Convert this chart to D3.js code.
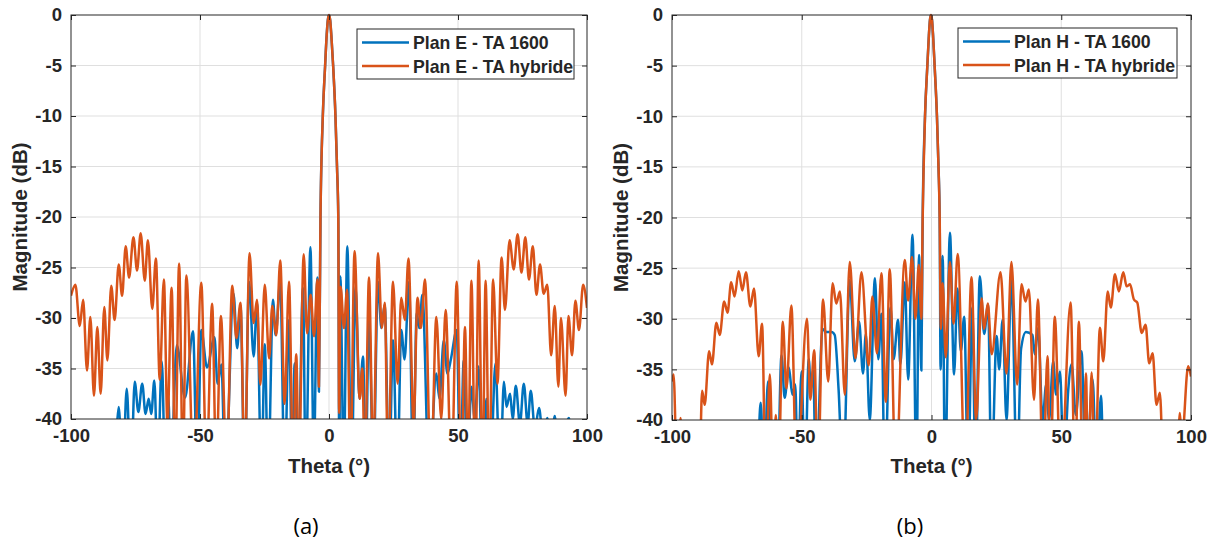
<!DOCTYPE html>
<html>
<head>
<meta charset="utf-8">
<script src="https://cdn.jsdelivr.net/npm/d3@7"></script>
<style>
  body { margin: 0; background: #fff; }
  svg { display: block; }
  text { font-family: "Liberation Sans", Arial, sans-serif; fill: #262626; }
</style>
</head>
<body>
<svg id="chart" width="1214" height="541"></svg>
<script>
// Axis settings
var xTicks = [-100, -50, 0, 50, 100];
var yTicks = [0, -5, -10, -15, -20, -25, -30, -35, -40];

// Main lobes shared by both curves of each plane
var mainLobeE = [[-3.3,-20],[-2.4,-10],[-1.5,-5],[-0.9,-2],[-0.45,-0.5],[0,0],[0.45,-0.5],[0.9,-2],[1.6,-5],[2.5,-10],[3.1,-15],[3.6,-20]];
var mainLobeH = [[-3.4,-20],[-2.5,-10],[-1.6,-5],[-1.0,-2],[-0.6,-0.5],[-0.2,0],[0.2,-0.5],[0.6,-2],[1.2,-5],[2.1,-10],[2.7,-15],[3.15,-20]];

// Plan E - TA 1600 (blue)
var planE_1600_left = [[-83,-46],[-81.5,-38.8],[-80,-46],[-78.4,-37.0],[-76.8,-46],[-75.3,-36.3],[-73.9,-39.3],[-72.4,-36.5],
  [-71.1,-39.5],[-69.9,-38.0],[-68.9,-39.5],[-67.7,-36.2],[-66.4,-45],[-64.8,-34.3],[-63.5,-45],[-62.3,-37.8],[-61.3,-45],
  [-59.0,-32.7],[-55.8,-37.9],[-52.7,-31.3],[-51.1,-46],[-49.5,-31.2],[-47.3,-34.9],[-44.4,-31.9],[-43.2,-36.5],[-41.7,-34.6],
  [-40.2,-46],[-37.0,-27.6],[-35.6,-33],[-34.3,-28.8],[-32.7,-46],[-31.0,-26.4],[-29.2,-33.8],[-27.9,-28.5],[-26.2,-46],
  [-24.9,-32.6],[-23.6,-46],[-21.7,-28.2],[-20.7,-31.7],[-18.9,-26.5],[-17.2,-46],[-15.5,-30.2],[-14.3,-45],[-13.3,-34.5],
  [-11.9,-45],[-10.1,-27.0],[-9.0,-46],[-7.2,-23.0],[-5.9,-44],[-4.5,-26.0],[-3.9,-37.3]];
var planE_1600_right = [[4.0,-46],[4.4,-25.9],[5.7,-45],[7.1,-22.9],[8.7,-46],[10.3,-26.9],[11.8,-38],[13.2,-33.8],[14.2,-45],
  [15.5,-30.0],[17.2,-45],[19.0,-26.4],[20.3,-31],[21.6,-28.7],[23.3,-46],[24.8,-32.2],[26.5,-46],[28.0,-31.2],[29.3,-34.1],
  [31.0,-26.4],[32.6,-45],[34.0,-29.5],[35.0,-31],[36.2,-27.7],[38.8,-46],[41.6,-35.5],[42.8,-38],[44.5,-32.2],[45.9,-35.5],
  [47.3,-34],[49.5,-31.2],[50.9,-46],[52.2,-34.2],[53.6,-45],[55.2,-36.8],[56.5,-40],[58.0,-34.8],[59.5,-46],[61.0,-38],
  [62.5,-46],[64.5,-34.5],[66.3,-46],[67.8,-36.3],[68.8,-38.8],[70.2,-37.5],[71.2,-40],[72.4,-36.7],[74,-40.5],[75.5,-36.5],
  [77,-40.5],[78.2,-37.2],[79.8,-41],[81.4,-38.9],[83,-42],[84.6,-39.9],[86,-43],[87.5,-39.7],[89,-44],[93,-39.9],[95,-45],[100,-46]];

// Plan E - TA hybride (orange)
var planE_hyb_left = [[-100,-27.8],[-98.3,-26.7],[-96.6,-30.8],[-95.3,-28.2],[-93.8,-35.2],[-92.5,-29.9],[-91.1,-37.7],
  [-89.8,-30.9],[-88.5,-37.5],[-87.1,-28.9],[-85.9,-34.2],[-84.4,-26.8],[-83.1,-30.2],[-81.5,-24.7],[-80.2,-27.8],[-78.8,-22.9],
  [-77.5,-26.0],[-75.8,-22.0],[-74.4,-25.3],[-73.0,-21.6],[-71.4,-26.3],[-70.2,-22.3],[-68.5,-29.1],[-67.1,-24.1],[-65.6,-36.1],
  [-64.0,-26.2],[-62.6,-40.5],[-61.0,-27.0],[-59.6,-45],[-58.1,-24.6],[-56.6,-45],[-55.3,-25.8],[-52.4,-46],[-49.5,-26.5],
  [-47.5,-45],[-45.3,-28.6],[-43.7,-45],[-41.9,-29.8],[-39.7,-45],[-37.5,-26.8],[-35.9,-32],[-34.3,-28.5],[-32.7,-45],
  [-30.8,-23.6],[-29.2,-30.5],[-27.9,-28.2],[-26.6,-36.6],[-24.9,-26.7],[-23.2,-34.0],[-22.0,-28.8],[-20.4,-31.7],[-18.9,-24.3],
  [-17.2,-38.5],[-15.5,-26.4],[-13.9,-45],[-12.7,-33.6],[-11.7,-45],[-9.8,-23.7],[-8.5,-31.5],[-7.1,-27.7],[-5.8,-31.8],
  [-4.5,-26.2],[-3.9,-36.8]];
var planE_hyb_right = [[3.9,-39.4],[4.5,-26.9],[5.8,-31.0],[7.0,-27.2],[8.3,-45],[9.9,-23.4],[11.9,-38],[12.9,-35],[13.9,-45],
  [15.5,-26.0],[17.1,-44],[19.0,-23.6],[20.5,-31.0],[21.6,-28.5],[22.9,-45],[24.8,-26.4],[26.6,-36.5],[28.0,-28.0],[29.4,-30.2],
  [30.8,-24.1],[32.8,-40.5],[34.3,-28.0],[35.6,-31],[37.2,-26.2],[39.5,-46],[41.6,-29.9],[43.5,-40],[45.2,-29.2],[47.5,-46],
  [49.5,-26.4],[51.3,-46],[52.7,-30.9],[53.9,-45],[55.2,-26.3],[56.7,-46],[58.0,-24.3],[59.5,-46],[60.7,-26.3],[62.1,-46],
  [63.6,-26.2],[65.3,-36.5],[66.9,-24.0],[68.2,-29.2],[70.0,-22.3],[71.6,-25.2],[73.1,-21.7],[74.6,-25.5],[76.1,-22.0],
  [77.5,-26.2],[79.0,-22.9],[80.4,-27.7],[81.8,-24.7],[83.2,-27.6],[84.6,-26.7],[86.1,-33.7],[87.5,-28.8],[88.9,-36.8],
  [89.9,-30.0],[91.7,-37.7],[92.8,-29.8],[94.2,-33.7],[95.5,-28.3],[96.9,-31.2],[98.5,-26.7],[100,-29.0]];

// Plan H - TA 1600 (blue)
var planH_1600_left = [[-67,-46],[-65.8,-38.3],[-64.6,-46],[-63.0,-36.2],[-61.6,-46],[-60.2,-41],[-59.4,-46],[-57.8,-33.6],
  [-56.6,-37.8],[-55.0,-34.8],[-53.6,-37.5],[-52.5,-36.5],[-51.5,-46],[-50.1,-35.2],[-48.8,-46],[-47.3,-34.0],[-46.5,-37],
  [-45.6,-35],[-44.5,-46],[-42.0,-31.0],[-40.5,-31.3],[-38.5,-31.3],[-37.3,-31.6],[-35.8,-37],[-34.1,-46],[-31.5,-26.2],
  [-29.6,-34.2],[-27.9,-30.3],[-26.4,-35.4],[-25.3,-31.5],[-23.8,-40],[-21.8,-26.0],[-20.5,-34],[-19.3,-29.5],[-18.0,-46],
  [-15.8,-28.9],[-14.6,-34],[-12.9,-30.1],[-12.0,-34.5],[-10.3,-26.4],[-9.0,-36],[-7.3,-21.7],[-5.8,-46],[-4.8,-23.7],[-3.9,-35.1]];
var planH_1600_right = [[3.5,-35],[4.3,-23.8],[5.2,-46],[7.1,-21.5],[8.7,-35.5],[10.0,-27.0],[11.3,-33.2],[12.6,-29.8],[14.1,-46],
  [15.7,-28.9],[17.0,-46],[18.6,-25.8],[20.3,-31.5],[21.8,-28.6],[23.1,-46],[25.1,-31.7],[26.1,-35],[27.4,-30.1],[28.9,-40],
  [30.8,-26.2],[33.0,-46],[34.5,-33],[36.4,-31.3],[38.9,-31.6],[39.8,-33.5],[41.1,-30.9],[42.8,-40],[44.2,-36.5],[45.3,-40],
  [46.9,-34.2],[48.0,-37.5],[49.5,-35.2],[51.0,-45],[52.7,-37.0],[54.0,-34.5],[55.6,-39.5],[57.8,-33.2],[59.5,-46],[62.1,-36.0],
  [63.6,-46],[65.3,-37.6],[66.2,-46]];

// Plan H - TA hybride (orange)
var planH_hyb_left = [[-100,-36.2],[-99.4,-35.5],[-98.0,-46],[-96.7,-39.8],[-95.5,-46],[-89.5,-46],[-88.4,-37.1],[-87.4,-38.5],
  [-85.7,-33.2],[-84.6,-34.5],[-82.9,-30.4],[-81.6,-31.6],[-79.9,-28.3],[-78.6,-29.4],[-77.2,-26.4],[-75.9,-27.8],[-74.3,-25.3],
  [-72.9,-27.2],[-71.5,-25.4],[-69.8,-28.8],[-68.4,-27.0],[-66.6,-33.7],[-65.3,-30.5],[-63.9,-46],[-62.3,-35.5],[-61.0,-46],
  [-60.0,-39.5],[-59.0,-46],[-57.3,-30.3],[-55.9,-36.9],[-54.0,-28.7],[-52.0,-46],[-48.0,-30.0],[-46.7,-38],[-45.2,-33.1],
  [-43.8,-46],[-41.8,-28.1],[-39.8,-36.2],[-38.1,-26.5],[-36.7,-28.5],[-35.3,-27.3],[-33.4,-37.5],[-31.5,-24.4],[-29.3,-33.9],
  [-27.0,-25.4],[-24.2,-34.6],[-22.8,-27.8],[-21.0,-33.4],[-19.3,-25.5],[-17.6,-38.2],[-16.1,-25.1],[-13.8,-46],[-10.3,-24.2],
  [-9.0,-28.2],[-7.5,-23.9],[-6.2,-30],[-4.9,-24.7],[-3.9,-30]];
var planH_hyb_right = [[3.6,-31],[4.3,-26.5],[5.5,-33.8],[7.1,-24.4],[8.5,-30.5],[10.1,-23.6],[13.0,-46],[15.4,-25.9],[17.2,-40],
  [19.3,-28],[20.3,-31],[21.7,-28.5],[23.2,-33.5],[26.6,-25.4],[28.9,-35.4],[30.8,-24.4],[33.0,-36.5],[34.7,-26.6],[36.2,-28.3],
  [37.5,-27.1],[39.5,-38],[41.0,-28.1],[43.0,-46],[44.7,-33.7],[45.8,-46],[47.5,-29.8],[49.8,-46],[53.6,-28.4],[55.3,-46],
  [56.8,-30.3],[58.3,-46],[59.5,-35.4],[60.4,-46],[61.7,-35.3],[63.0,-46],[64.9,-30.9],[66.2,-34.2],[67.9,-27.3],[69.1,-28.9],
  [70.7,-25.6],[72.2,-27.3],[73.9,-25.4],[75.2,-26.8],[76.5,-26.6],[78.0,-28.1],[79.3,-28.4],[81.0,-31.4],[82.5,-30.6],
  [83.9,-34.4],[85.2,-33.4],[86.7,-38.5],[88.0,-37.3],[89.5,-46],[94.5,-46],[95.7,-39.3],[96.5,-42],[98.9,-34.7],[100,-35.7]];

var colors = { ta1600: "#0072BD", hybride: "#D95319" };

var panels = [
  { id: "a", left: 71, right: 587, top: 15, bottom: 419, caption: "(a)", captionX: 306,
    series: [
      { name: "Plan E - TA 1600", color: colors.ta1600, data: planE_1600_left.concat(mainLobeE, planE_1600_right) },
      { name: "Plan E - TA hybride", color: colors.hybride, data: planE_hyb_left.concat(mainLobeE, planE_hyb_right) }
    ],
    legend: { x: 357, y: 29, w: 217, h: 50 } },
  { id: "b", left: 672, right: 1191, top: 15, bottom: 420, caption: "(b)", captionX: 910,
    series: [
      { name: "Plan H - TA 1600", color: colors.ta1600, data: planH_1600_left.concat(mainLobeH, planH_1600_right) },
      { name: "Plan H - TA hybride", color: colors.hybride, data: planH_hyb_left.concat(mainLobeH, planH_hyb_right) }
    ],
    legend: { x: 958, y: 28, w: 219, h: 50 } }
];

var svg = d3.select("#chart");
var fmt = function (d) { return String(d); };   // keep the plain hyphen like MATLAB

panels.forEach(function (p) {
  var x = d3.scaleLinear().domain([-100, 100]).range([p.left, p.right]);
  var y = d3.scaleLinear().domain([-40, 0]).range([p.bottom, p.top]);
  var g = svg.append("g");

  // grid
  g.selectAll(".gx").data(xTicks.slice(1, -1)).enter().append("line")
    .attr("x1", function (d) { return x(d); }).attr("x2", function (d) { return x(d); })
    .attr("y1", p.top).attr("y2", p.bottom)
    .style("stroke", "#dfdfdf").style("stroke-width", 1);
  g.selectAll(".gy").data(yTicks.slice(1, -1)).enter().append("line")
    .attr("y1", function (d) { return y(d); }).attr("y2", function (d) { return y(d); })
    .attr("x1", p.left).attr("x2", p.right)
    .style("stroke", "#dfdfdf").style("stroke-width", 1);

  // clip
  svg.append("clipPath").attr("id", "clip-" + p.id)
    .append("rect").attr("x", p.left).attr("y", p.top - 3)
    .attr("width", p.right - p.left).attr("height", p.bottom - p.top + 3);

  var line = d3.line()
    .x(function (d) { return x(d[0]); })
    .y(function (d) { return y(d[1]); })
    .curve(d3.curveMonotoneX);

  g.append("g").attr("clip-path", "url(#clip-" + p.id + ")")
    .selectAll("path").data(p.series).enter().append("path")
    .attr("d", function (s) { return line(s.data); })
    .style("fill", "none")
    .style("stroke", function (s) { return s.color; })
    .style("stroke-width", 2.5)
    .style("stroke-linejoin", "round");

  // axes (MATLAB style: ticks inside on all sides)
  var tick = 5;
  g.append("g").attr("transform", "translate(0," + p.bottom + ")")
    .call(d3.axisBottom(x).tickValues(xTicks).tickFormat(fmt).tickSizeInner(-tick).tickSizeOuter(0).tickPadding(10))
    .call(function (a) { a.select(".domain").remove(); });
  g.append("g").attr("transform", "translate(0," + p.top + ")")
    .call(d3.axisTop(x).tickValues(xTicks).tickSizeInner(-tick).tickSizeOuter(0).tickFormat(""))
    .call(function (a) { a.select(".domain").remove(); });
  g.append("g").attr("transform", "translate(" + p.left + ",0)")
    .call(d3.axisLeft(y).tickValues(yTicks).tickFormat(fmt).tickSizeInner(-tick).tickSizeOuter(0).tickPadding(9))
    .call(function (a) { a.select(".domain").remove(); });
  g.append("g").attr("transform", "translate(" + p.right + ",0)")
    .call(d3.axisRight(y).tickValues(yTicks).tickSizeInner(-tick).tickSizeOuter(0).tickFormat(""))
    .call(function (a) { a.select(".domain").remove(); });

  g.selectAll(".tick line").style("stroke", "#262626");
  g.selectAll(".tick text").style("font-size", "18.5px").style("font-weight", "bold")
    .style("font-family", "'Liberation Sans', Arial, sans-serif").style("fill", "#262626");

  g.append("rect").attr("x", p.left).attr("y", p.top)
    .attr("width", p.right - p.left).attr("height", p.bottom - p.top)
    .style("fill", "none").style("stroke", "#262626").style("stroke-width", 1);

  // axis labels
  g.append("text").attr("x", (p.left + p.right) / 2).attr("y", 473)
    .attr("text-anchor", "middle").style("font-size", "20.5px").style("font-weight", "bold")
    .text("Theta (°)");
  g.append("text")
    .attr("transform", "translate(" + (p.left - 44) + "," + ((p.top + p.bottom) / 2) + ") rotate(-90)")
    .attr("text-anchor", "middle").style("font-size", "20.5px").style("font-weight", "bold")
    .text("Magnitude (dB)");

  // legend
  var lg = g.append("g").attr("transform", "translate(" + p.legend.x + "," + p.legend.y + ")");
  lg.append("rect").attr("width", p.legend.w).attr("height", p.legend.h)
    .style("fill", "#fff").style("stroke", "#262626").style("stroke-width", 1);
  p.series.forEach(function (s, i) {
    var ly = 13.5 + i * 23.5;
    lg.append("line").attr("x1", 5).attr("x2", 52).attr("y1", ly).attr("y2", ly)
      .style("stroke", s.color).style("stroke-width", 2.5);
    lg.append("text").attr("x", 56).attr("y", ly + 6.5)
      .style("font-size", "17.7px").style("font-weight", "bold").text(s.name);
  });

  // caption
  svg.append("text").attr("x", p.captionX).attr("y", 534)
    .attr("text-anchor", "middle")
    .style("font-family", "'Open Sans', 'Noto Sans', sans-serif")
    .style("font-size", "22px").style("fill", "#000")
    .text(p.caption);
});
</script>
</body>
</html>
